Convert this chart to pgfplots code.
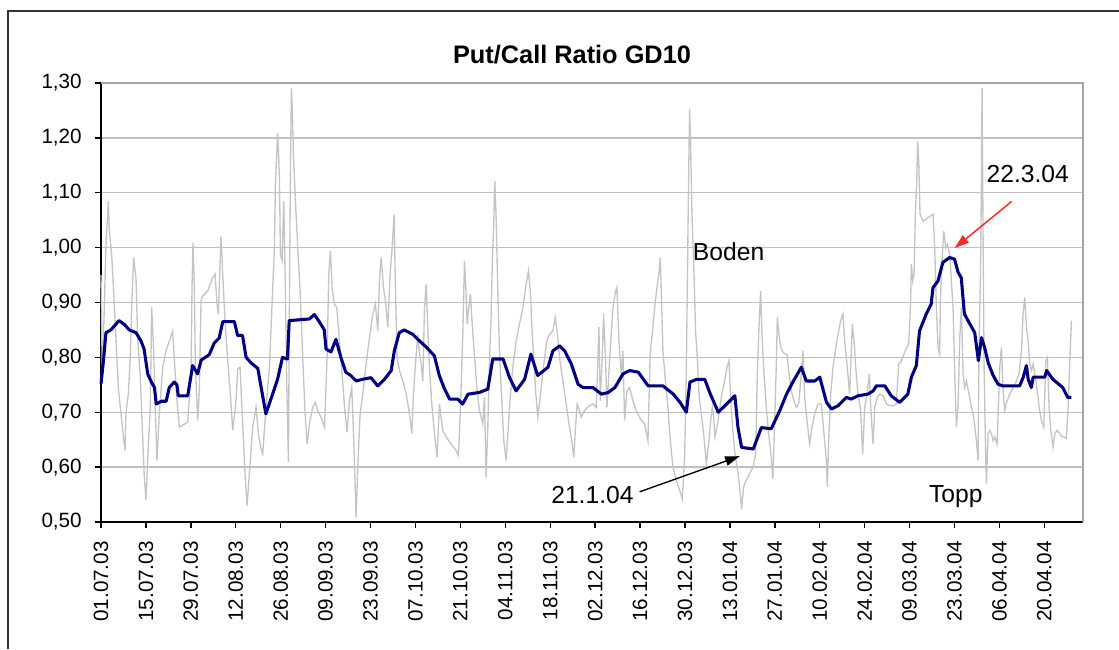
\documentclass[border=0pt]{standalone}
\usepackage{fontspec}
\setmainfont{Liberation Sans}
\usepackage{pgfplots}
\pgfplotsset{compat=1.18}
\usetikzlibrary{arrows.meta}
\definecolor{navyline}{RGB}{0,0,128}
\definecolor{grayline}{RGB}{196,196,196}
\definecolor{gridgray}{RGB}{192,192,192}
\definecolor{bordergray}{RGB}{165,165,165}
\definecolor{arrowred}{RGB}{255,40,40}
\begin{document}
\begin{tikzpicture}
\path[use as bounding box] (0pt,0pt) rectangle (839.25pt,486.75pt);
\draw[line width=1.5pt, black!80] (6pt,0pt) -- (6pt,478.5pt) -- (839.25pt,478.5pt);
\node[font=\bfseries\fontsize{19}{22}\selectfont] at (429pt,446pt) {Put/Call Ratio GD10};
\begin{axis}[
  at={(75.75pt,95.25pt)}, anchor=south west, scale only axis,
  width=736.5pt, height=329.25pt,
  xmin=0, xmax=218.6, ymin=0.5, ymax=1.3,
  axis lines=left, axis line style={-, line width=1.5pt, black},
  tick align=outside, major tick length=4.5pt, tick style={black, line width=1pt},
  xtick={0,10,...,210},
  xticklabels={01.07.03,15.07.03,29.07.03,12.08.03,26.08.03,09.09.03,23.09.03,07.10.03,21.10.03,04.11.03,18.11.03,02.12.03,16.12.03,30.12.03,13.01.04,27.01.04,10.02.04,24.02.04,09.03.04,23.03.04,06.04.04,20.04.04},
  ytick={0.5,0.6,0.7,0.8,0.9,1.0,1.1,1.2,1.3},
  yticklabels={{0,50},{0,60},{0,70},{0,80},{0,90},{1,00},{1,10},{1,20},{1,30}},
  ymajorgrids, major grid style={gridgray, line width=1pt},
  tick label style={font=\fontsize{15.5}{18}\selectfont},
  xticklabel style={rotate=90, anchor=east, inner sep=0pt},
  yticklabel style={anchor=east, inner sep=0pt},
  xticklabel shift=9.75pt, yticklabel shift=9.75pt,
  clip=false,
]
\addplot[grayline, line width=1pt] coordinates {
(0,0.95)(0.3,0.76)(1.1,1.003)(1.63,1.085)(1.85,1.033)(2.37,0.988)(2.81,0.921)(3.33,0.836)(3.85,0.745)(4.45,0.697)(5.04,0.652)(5.34,0.63)(5.56,0.697)(6.08,0.733)(6.52,0.80)(6.82,0.891)(7.27,0.982)(7.79,0.945)(8.16,0.836)(8.75,0.764)(9.27,0.655)(9.64,0.582)(10.01,0.54)(10.38,0.612)(10.98,0.709)(11.27,0.891)(11.72,0.812)(12.09,0.706)(12.46,0.612)(12.98,0.697)(13.73,0.782)(14.47,0.812)(15.21,0.83)(15.95,0.848)(16.47,0.776)(16.92,0.721)(17.44,0.673)(19.29,0.682)(20.04,0.77)(20.26,0.927)(20.48,1.009)(20.78,0.927)(21.0,0.788)(21.52,0.685)(21.89,0.739)(22.27,0.903)(22.64,0.912)(23.75,0.921)(24.86,0.945)(25.38,0.952)(25.83,0.897)(26.12,0.879)(26.42,0.952)(26.72,1.021)(27.09,0.952)(27.61,0.867)(28.2,0.794)(28.8,0.733)(29.32,0.667)(30.06,0.721)(30.43,0.779)(30.95,0.782)(31.39,0.706)(32.06,0.588)(32.51,0.53)(33.03,0.588)(33.77,0.673)(34.51,0.709)(35.03,0.661)(35.63,0.633)
(36.0,0.624)(36.74,0.709)(37.49,0.782)(38.23,0.927)(38.6,1.0)(38.82,1.115)(39.34,1.209)(39.71,1.133)(39.94,0.988)(40.31,0.976)(40.68,1.085)(40.98,0.952)(41.35,0.752)(41.72,0.609)(41.94,0.891)(42.16,1.133)(42.39,1.291)(42.61,1.245)(42.83,1.17)(43.28,1.085)(43.8,1.0)(44.32,0.921)(44.91,0.80)(45.43,0.697)(45.88,0.642)(46.4,0.679)(47.14,0.709)(47.73,0.718)(48.25,0.703)(48.99,0.691)(49.74,0.673)(50.33,0.80)(50.7,0.952)(51.07,0.994)(51.44,0.927)(51.96,0.897)(52.48,0.891)(53.08,0.83)(53.67,0.77)(54.27,0.703)(54.78,0.664)(55.3,0.721)(55.82,0.745)(56.27,0.648)(56.79,0.509)(57.16,0.6)(57.68,0.697)(58.27,0.733)(59.02,0.788)(59.76,0.836)(60.5,0.879)(61.09,0.897)(61.62,0.848)(61.99,0.94)(62.36,0.982)(62.88,0.927)(63.32,0.903)(63.84,0.855)(64.36,0.952)(64.81,1.0)(65.25,1.06)(65.55,0.921)(65.92,0.80)(66.44,0.776)(67.18,0.757)(67.93,0.733)(68.67,0.697)(69.19,0.661)(69.56,0.733)(70.0,0.788)(70.52,0.842)(70.9,0.806)(71.27,0.788)(71.64,0.757)(72.01,0.891)(72.37,0.933)(72.74,0.855)
(73.11,0.782)(73.63,0.715)(74.23,0.661)(74.82,0.618)(75.34,0.715)(76.08,0.667)(76.83,0.655)(77.94,0.642)(79.05,0.63)(79.57,0.621)(80.02,0.709)(80.54,0.842)(80.91,0.976)(81.21,0.927)(81.5,0.861)(81.87,0.891)(82.24,0.915)(82.76,0.845)(83.28,0.788)(83.73,0.739)(84.25,0.703)(84.62,0.691)(84.99,0.679)(85.36,0.727)(85.73,0.582)(86.11,0.673)(86.48,0.794)(86.85,0.879)(87.14,0.982)(87.44,1.048)(87.66,1.121)(87.96,1.055)(88.33,0.921)(88.7,0.812)(89.22,0.721)(89.67,0.648)(90.19,0.612)(90.56,0.661)(91.15,0.733)(91.67,0.782)(92.42,0.83)(93.16,0.861)(93.9,0.891)(94.64,0.933)(95.16,0.958)(95.61,0.915)(95.98,0.845)(96.35,0.794)(96.8,0.733)(97.24,0.691)(97.84,0.733)(98.58,0.788)(99.25,0.83)(99.84,0.842)(100.58,0.848)(101.1,0.873)(101.55,0.848)(102.07,0.80)(102.81,0.757)(103.55,0.715)(104.29,0.673)(104.81,0.648)(105.26,0.618)(105.63,0.673)(106.0,0.715)(106.3,0.709)(106.89,0.691)(107.63,0.703)(108.75,0.712)
(109.5,0.715)(110.24,0.709)(110.84,0.855)(111.14,0.721)(111.58,0.80)(111.88,0.879)(112.32,0.794)(112.62,0.709)(113.21,0.794)(113.96,0.891)(114.55,0.921)(114.85,0.927)(115.29,0.83)(115.81,0.77)(116.18,0.812)(116.56,0.685)(117.07,0.739)(117.67,0.745)(118.41,0.721)(119.15,0.703)(120.27,0.685)(121.01,0.679)(121.75,0.648)(122.27,0.812)(122.72,0.842)(123.24,0.891)(123.76,0.927)(124.2,0.952)(124.5,0.982)(124.8,0.897)(125.09,0.812)(125.69,0.752)(126.2,0.709)(126.73,0.648)(127.32,0.6)(128.06,0.576)(128.8,0.558)(129.4,0.542)(129.92,0.618)(130.29,0.77)(130.51,0.921)(130.81,1.133)(131.03,1.252)(131.25,1.188)(131.55,1.061)(132.0,0.952)(132.37,0.845)(132.74,0.80)(133.11,0.733)(133.63,0.697)(134.15,0.661)(134.74,0.606)(135.34,0.648)(135.71,0.685)(136.08,0.709)(136.38,0.691)(136.67,0.655)(137.12,0.673)(137.56,0.697)(138.08,0.727)(138.83,0.757)(139.35,0.782)(139.79,0.794)(140.09,0.739)(140.53,0.679)(141.05,0.63)(141.8,0.588)(142.32,0.551)(142.61,0.524)(143.06,0.564)(143.65,0.576)(144.4,0.588)(145.14,0.6)(145.73,0.624)
(146.1,0.77)(146.47,0.855)(146.84,0.921)(147.13,0.842)(147.58,0.77)(148.1,0.709)(148.62,0.661)(149.21,0.618)(149.58,0.579)(149.95,0.679)(150.33,0.788)(150.55,0.873)(151.07,0.83)(151.59,0.812)(152.18,0.806)(152.7,0.806)(153.15,0.77)(153.67,0.739)(154.26,0.721)(154.78,0.709)(155.3,0.715)(155.89,0.77)(156.26,0.812)(156.64,0.727)(157.23,0.679)(157.75,0.642)(158.27,0.673)(158.86,0.697)(159.61,0.715)(160.35,0.715)(160.94,0.661)(161.46,0.612)(161.68,0.564)(161.98,0.648)(162.43,0.733)(162.95,0.782)(163.47,0.812)(164.06,0.842)(164.65,0.867)(165.17,0.879)(165.54,0.83)(166.06,0.788)(166.66,0.733)(167.25,0.861)(167.62,0.83)(168.0,0.782)(168.51,0.733)(169.11,0.703)(169.55,0.624)(170.0,0.709)(170.52,0.733)(171.04,0.77)(171.34,0.709)(171.86,0.642)(172.23,0.709)(172.82,0.727)(173.34,0.733)(174.08,0.73)(174.82,0.715)(175.57,0.712)(176.31,0.712)(177.05,0.715)(177.57,0.788)(178.17,0.794)(178.76,0.806)(179.35,0.818)(179.8,0.824)(180.24,0.903)(180.39,0.97)(180.69,0.939)(180.99,0.952)(181.28,1.061)(181.58,1.121)(181.8,1.194)(182.03,1.158)(182.32,1.061)(182.62,1.055)(182.99,1.048)
(185.22,1.061)(185.59,1.0)(185.96,0.891)(186.33,0.818)(186.7,0.806)(186.85,0.903)(187.22,0.976)(187.6,1.03)(188.04,1.0)(188.41,1.006)(188.93,0.988)(189.67,0.891)(190.05,0.77)(190.42,0.673)(190.79,0.709)(191.16,0.836)(191.53,0.891)(191.9,0.77)(192.27,0.745)(192.64,0.757)(193.24,0.733)(193.76,0.709)(194.28,0.691)(194.87,0.648)(195.24,0.612)(195.46,0.83)(195.76,0.945)(195.98,1.109)(196.13,1.291)(196.36,1.015)(196.58,0.782)(196.87,0.648)(197.1,0.57)(197.47,0.661)(197.84,0.667)(198.21,0.661)(198.58,0.648)(198.95,0.655)(199.47,0.642)(200.07,0.782)(200.44,0.818)(200.81,0.739)(201.18,0.703)(201.7,0.721)(202.29,0.733)(203.04,0.745)(203.78,0.757)(204.37,0.77)(204.89,0.812)(205.26,0.879)(205.64,0.909)(206.01,0.855)(206.38,0.83)(206.75,0.788)(207.12,0.776)(207.49,0.788)(207.86,0.77)(208.23,0.752)(208.83,0.709)(209.35,0.685)(209.87,0.673)(210.31,0.794)(210.68,0.80)(211.05,0.709)(211.43,0.667)(211.95,0.636)(212.32,0.661)(212.84,0.667)(213.43,0.661)(214.02,0.655)(214.54,0.655)(214.91,0.652)(215.29,0.709)(215.66,0.794)(216.03,0.867)
};
\addplot[navyline, line width=2.3pt, line join=round] coordinates {
(0,0.752)(0.5,0.79)(1.1,0.845)(2.2,0.85)(4.0,0.867)(5.2,0.86)(6.3,0.85)(7.8,0.845)(8.9,0.83)(9.6,0.815)(10.4,0.77)(11.1,0.757)(11.9,0.745)(12.3,0.715)(13.4,0.72)(14.5,0.72)(15.2,0.745)(16.3,0.755)(16.9,0.75)(17.2,0.73)(19.3,0.73)(20.4,0.785)(21.5,0.77)(22.3,0.795)(24.1,0.805)(25.2,0.826)(26.3,0.835)(27.1,0.865)(29.7,0.865)(30.4,0.84)(31.5,0.84)(32.3,0.80)(33.4,0.79)(34.9,0.78)(36.7,0.697)(38.2,0.733)(39.3,0.76)(40.4,0.80)(41.5,0.797)(41.9,0.867)(46.4,0.87)(47.5,0.878)(48.6,0.865)(49.7,0.85)(50.1,0.815)(51.2,0.81)(52.3,0.833)(53.4,0.80)(54.5,0.773)(55.6,0.767)(56.8,0.757)(58.2,0.76)(60.1,0.763)(61.6,0.748)(63.1,0.76)(64.6,0.776)(65.3,0.812)(66.4,0.845)(67.5,0.85)(69.4,0.842)(70.9,0.83)(72.5,0.818)(74.2,0.803)(75.3,0.767)(76.5,0.742)(77.6,0.724)(79.4,0.724)(80.5,0.715)(81.7,0.733)(84.2,0.736)(86.1,0.742)(87.2,0.797)(89.5,0.797)(90.9,0.764)(92.4,0.739)(94.3,0.76)(95.7,0.806)(97.2,0.767)(99.5,0.782)(100.6,0.812)(102.1,0.821)(103.2,0.812)(104.7,0.788)(106.2,0.751)(107.3,0.745)(109.5,0.745)(111.4,0.733)(112.9,0.736)(114.4,0.745)(116.2,0.77)(117.7,0.776)(119.6,0.773)(121.8,0.748)(125.1,0.748)(127.4,0.733)(128.9,0.718)(130.3,0.70)(131.1,0.755)(132.6,0.76)(134.4,0.76)(135.5,0.736)(137.4,0.70)(138.9,0.712)(141.1,0.73)(141.8,0.672)(142.6,0.636)(145.2,0.633)(147.0,0.672)(149.2,0.67)(151.1,0.703)(152.6,0.733)(154.0,0.755)(155.9,0.782)(157.0,0.757)(158.9,0.757)(160.0,0.764)(161.5,0.718)(162.6,0.706)(164.1,0.712)(165.9,0.727)(167.0,0.724)(168.5,0.73)(170.7,0.733)(171.9,0.739)(172.6,0.748)(174.5,0.748)(175.9,0.73)(177.8,0.718)(179.6,0.733)(180.4,0.764)(181.5,0.785)(182.2,0.848)(183.7,0.879)(184.8,0.897)(185.2,0.927)(186.3,0.939)(187.4,0.973)(188.9,0.982)(190.0,0.979)(190.8,0.955)(191.5,0.945)(192.2,0.879)(193.4,0.861)(194.5,0.845)(195.3,0.794)(196.0,0.836)(196.7,0.818)(197.5,0.79)(198.6,0.767)(199.7,0.751)(200.8,0.748)(204.5,0.748)(205.3,0.764)(206.0,0.785)(206.4,0.76)(207.1,0.745)(207.5,0.764)(210.1,0.764)(210.5,0.776)(211.9,0.76)(214.1,0.745)(215.2,0.727)(216.0,0.727)
};
\draw[bordergray, line width=1.2pt] (rel axis cs:0,1) -- (rel axis cs:1,1) -- (rel axis cs:1,0);
\node[font=\fontsize{18.5}{22}\selectfont] at (axis cs:139.7,0.992) {Boden};
\node[font=\fontsize{18.5}{22}\selectfont] at (axis cs:206.3,1.134) {22.3.04};
\node[font=\fontsize{18.5}{22}\selectfont] at (axis cs:109.4,0.549) {21.1.04};
\node[font=\fontsize{18.5}{22}\selectfont] at (axis cs:190.3,0.546) {Topp};
\draw[black, line width=1pt, -{Triangle[length=11pt,width=7pt]}] (axis cs:119.9,0.555) -- (axis cs:142.2,0.620);
\draw[arrowred, line width=1.1pt, -{Triangle[length=11pt,width=7pt]}] (axis cs:202.7,1.084) -- (axis cs:190.0,0.999);
\end{axis}
\end{tikzpicture}
\end{document}
